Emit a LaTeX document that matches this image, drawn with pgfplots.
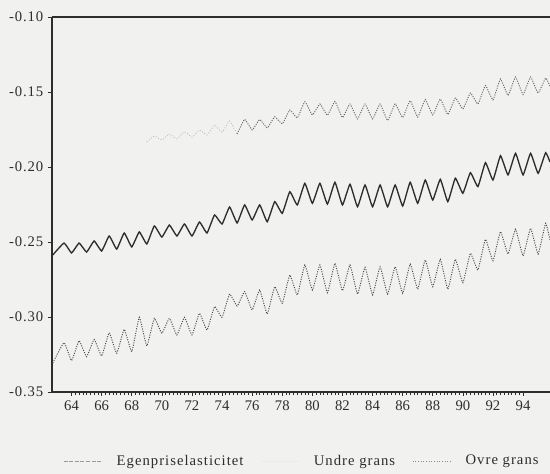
\documentclass[border=0pt]{standalone}
\usepackage{fontspec}
\setmainfont{Liberation Serif}
\newfontfamily\ylabfont[LetterSpace=6]{Liberation Serif}
\newfontfamily\legfont[LetterSpace=7]{Liberation Serif}
\usepackage{pgfplots}
\pgfplotsset{compat=1.18}
\definecolor{paper}{RGB}{241,241,239}
\definecolor{ink}{RGB}{45,45,45}

\begin{document}
\begin{tikzpicture}
\fill[paper] (-39pt,-61.5pt) rectangle (373.5pt,294pt);
\begin{axis}[
  scale only axis, width=373.5pt, height=281.25pt,
  xmin=62.70, xmax=95.79, ymin=-0.35, ymax=-0.10,
  axis x line=box, axis y line=left,
  axis line style={-, ink, line width=0.8pt},
  xtick pos=left, ytick pos=left, tick align=outside,
  xtick={64,66,...,94},
  xticklabels={64,66,68,70,72,74,76,78,80,82,84,86,88,90,92,94},
  minor x tick num=7,
  ytick={-0.35,-0.30,-0.25,-0.20,-0.15,-0.10},
  yticklabels={-0.35,-0.30,-0.25,-0.20,-0.15,-0.10},
  major tick length=3pt, minor tick length=2pt,
  tick style={ink, line width=0.5pt},
  tick label style={font=\fontsize{11}{13}\selectfont, text=ink},
  yticklabel style={font=\ylabfont\fontsize{11}{13}\selectfont},
  every axis plot/.append style={smooth, tension=0.22},
  legend columns=3,
  legend image code/.code={\draw[#1] (0pt,0pt) -- (29pt,0pt);},
  legend style={at={(0.022,-0.184)}, anchor=west, draw=none, fill=none,
    inner sep=0pt, font=\legfont\fontsize{11}{13}\selectfont,
    nodes={inner sep=0pt, text=ink},
    /tikz/every odd column/.append style={column sep=10.5pt},
    /tikz/every even column/.append style={column sep=12.75pt}},
]
% Egenpriselasticitet
\addplot[ink, line width=1pt, forget plot] coordinates {
(62.75,-0.2587) (63.5,-0.2507) (64.0,-0.2573) (64.5,-0.2507) (65.0,-0.2567) (65.5,-0.2493)
(66.0,-0.2560) (66.5,-0.2460) (67.0,-0.2547) (67.5,-0.2440) (68.0,-0.2533) (68.5,-0.2433)
(69.0,-0.2513) (69.5,-0.2393) (70.0,-0.2467) (70.5,-0.2387) (71.0,-0.2460) (71.5,-0.2380)
(72.0,-0.2460) (72.5,-0.2367) (73.0,-0.2440) (73.5,-0.2320) (74.0,-0.2380) (74.5,-0.2267)
(75.0,-0.2373) (75.5,-0.2253) (76.0,-0.2353) (76.5,-0.2253) (77.0,-0.2365) (77.5,-0.2231)
(78.0,-0.2309) (78.5,-0.2165) (79.0,-0.2253) (79.5,-0.2109) (80.0,-0.2242) (80.5,-0.2109)
(81.0,-0.2247) (81.5,-0.2102) (82.0,-0.2253) (82.5,-0.2115) (83.0,-0.2265) (83.5,-0.2120)
(84.0,-0.2265) (84.5,-0.2120) (85.0,-0.2265) (85.5,-0.2120) (86.0,-0.2260) (86.5,-0.2102)
(87.0,-0.2242) (87.5,-0.2087) (88.0,-0.2220) (88.5,-0.2082) (89.0,-0.2231) (89.5,-0.2075)
(90.0,-0.2175) (90.5,-0.2038) (91.0,-0.2131) (91.5,-0.1971) (92.0,-0.2087) (92.5,-0.1925)
(93.0,-0.2053) (93.5,-0.1909) (94.0,-0.2053) (94.5,-0.1909) (95.0,-0.2042) (95.5,-0.1905)
(95.79,-0.1967)
};
% Undre grans
\addplot[black!70, line width=0.7pt, dash pattern=on 0.8pt off 1pt, forget plot] coordinates {
(62.75,-0.3307) (63.5,-0.3171) (64.0,-0.3291) (64.5,-0.3158) (65.0,-0.3265) (65.5,-0.3149)
(66.0,-0.3260) (66.5,-0.3105) (67.0,-0.3242) (67.5,-0.3082) (68.0,-0.3231) (68.5,-0.3002)
(69.0,-0.3193) (69.5,-0.3009) (70.0,-0.3109) (70.5,-0.3009) (71.0,-0.3120) (71.5,-0.3002)
(72.0,-0.3120) (72.5,-0.2975) (73.0,-0.3087) (73.5,-0.2931) (74.0,-0.3002) (74.5,-0.2847)
(75.0,-0.2927) (75.5,-0.2831) (76.0,-0.2953) (76.5,-0.2820) (77.0,-0.2980) (77.5,-0.2798)
(78.0,-0.2909) (78.5,-0.2720) (79.0,-0.2853) (79.5,-0.2653) (80.0,-0.2820) (80.5,-0.2653)
(81.0,-0.2838) (81.5,-0.2642) (82.0,-0.2825) (82.5,-0.2653) (83.0,-0.2847) (83.5,-0.2669)
(84.0,-0.2853) (84.5,-0.2665) (85.0,-0.2847) (85.5,-0.2665) (86.0,-0.2842) (86.5,-0.2647)
(87.0,-0.2815) (87.5,-0.2620) (88.0,-0.2798) (88.5,-0.2615) (89.0,-0.2815) (89.5,-0.2615)
(90.0,-0.2771) (90.5,-0.2575) (91.0,-0.2687) (91.5,-0.2482) (92.0,-0.2625) (92.5,-0.2431)
(93.0,-0.2580) (93.5,-0.2415) (94.0,-0.2593) (94.5,-0.2409) (95.0,-0.2580) (95.5,-0.2375)
(95.79,-0.2487)
};
% Ovre grans (faint start in the scan)
\addplot[black!28, line width=0.6pt, dash pattern=on 0.7pt off 1.4pt, forget plot] coordinates {
(69.0,-0.1833) (69.5,-0.1793) (70.0,-0.1820) (70.5,-0.1780) (71.0,-0.1813) (71.5,-0.1765)
(72.0,-0.1800) (72.5,-0.1753) (73.0,-0.1787) (73.5,-0.1720) (74.0,-0.1767) (74.5,-0.1693)
(75.0,-0.1780)
};
\addplot[black!60, line width=0.7pt, dash pattern=on 0.8pt off 1pt, forget plot] coordinates {
(75.0,-0.1780) (75.5,-0.1682) (76.0,-0.1753) (76.5,-0.1683) (77.0,-0.1740) (77.5,-0.1665)
(78.0,-0.1713) (78.5,-0.1620) (79.0,-0.1673) (79.5,-0.1565) (80.0,-0.1653) (80.5,-0.1580)
(81.0,-0.1655) (81.5,-0.1563) (82.0,-0.1670) (82.5,-0.1580) (83.0,-0.1680) (83.5,-0.1580)
(84.0,-0.1680) (84.5,-0.1580) (85.0,-0.1690) (85.5,-0.1580) (86.0,-0.1670) (86.5,-0.1558)
(87.0,-0.1667) (87.5,-0.1550) (88.0,-0.1653) (88.5,-0.1547) (89.0,-0.1650) (89.5,-0.1540)
(90.0,-0.1613) (90.5,-0.1507) (91.0,-0.1580) (91.5,-0.1457) (92.0,-0.1553) (92.5,-0.1413)
(93.0,-0.1523) (93.5,-0.1400) (94.0,-0.1517) (94.5,-0.1400) (95.0,-0.1507) (95.5,-0.1407)
(95.79,-0.1460)
};
\addlegendimage{black!40, line width=0.6pt, dash pattern=on 3pt off 1.2pt}
\addlegendentry{Egenpriselasticitet}
\addlegendimage{black!8, line width=0.5pt}
\addlegendentry{Undre grans}
\addlegendimage{black!45, line width=0.6pt, dash pattern=on 0.8pt off 1.2pt}
\addlegendentry{Ovre grans}
\end{axis}
\pgfresetboundingbox
\useasboundingbox (-39pt,-61.5pt) rectangle (373.5pt,294pt);
\end{tikzpicture}
\end{document}
